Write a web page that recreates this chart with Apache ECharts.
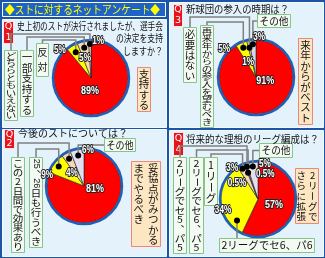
<!DOCTYPE html>
<html lang="ja">
<head>
<meta charset="UTF-8" />
<title>ストに対するネットアンケート</title>
<script src="https://cdn.jsdelivr.net/npm/echarts@6/dist/echarts.min.js"></script>
<style>
  html, body { margin: 0; padding: 0; background: #1d55a6; }
  #main { width: 325px; height: 258px; }
</style>
</head>
<body>
<div id="main"></div>
<script>
// --- data ---
const q1Names = ['支持する', '反対', '一部支持する', 'どちらともいえない']
const q1Values = [89, 5, 5, 1]
const q2Names = ['妥協点がみつかるまでやるべき', '25、26日も行うべき', 'この2日間で効果あり', 'その他']
const q2Values = [81, 9, 4, 6]
const q3Names = ['来年からがベスト', '再来年からの参入を望むべき', '必要はない', 'その他']
const q3Values = [91, 5, 1, 3]
const q4Names = ['2リーグでさらに拡張', '2リーグでセ6、パ6', '1リーグ', '2リーグでセ6、パ5', '2リーグでセ5、パ5', 'その他']
const q4Values = [57, 34, 3, 0.5, 0.5, 5]

const title = '◆ストに対するネットアンケート◆'
const q1Text = ['史上初のストが決行されましたが、選手会', 'の決定を支持', 'しますか？']
const q2Text = ['今後のストについては？']
const q3Text = ['新球団の参入の時期は？']
const q4Text = ['将来的な理想のリーグ編成は？']

// --- styles ---
const RED = '#ff0000', YEL = '#ffff00', BEI = '#f6dab0', LAV = '#e2e0f0', WHT = '#f6f6fa'
const q1Colors = [RED, YEL, BEI, WHT]
const q2Colors = [RED, YEL, BEI, LAV]
const q3Colors = [RED, YEL, BEI, '#d6d6e4']
const q4Colors = [RED, YEL, BEI, WHT, WHT, LAV]

const JP = '"Noto Sans CJK JP", sans-serif'
const NUM = '"Liberation Sans", Arial, sans-serif'

// layout of each panel (positions only, values come from the arrays above)
const panels = [
  { names: q1Names, values: q1Values, colors: q1Colors, text: q1Text, num: '1',
    panel: [2, 19, 164, 108], center: [91, 78], r: 37, qbox: [3, 21, 10, 22],
    lines: [[17, 26, 146, 'left'], [163, 38, 47, 'right'], [163, 51, 40, 'right']],
    answer: { rect: [137, 67, 13, 44], cols: ['支持する'] },
    tags: [null,
      { rect: [36, 43, 12, 33], route: 'up', rail: 40 },
      { rect: [20, 50, 13, 66], route: 'up', rail: 37 },
      { rect: [4, 50, 13, 70], route: 'up', rail: 34 }],
    pct: [[24, 13], [-17, 42], [-4, 21], [12.5, 38]],
    dot: [null, [0, 30], [0, 31], [0, 34]] },
  { names: q2Names, values: q2Values, colors: q2Colors, text: q2Text, num: '2',
    panel: [2, 129, 164, 127], center: [84, 186], r: 37, qbox: [4, 129, 10, 19],
    lines: [[18, 133, 110, 'left']],
    answer: { rect: [131, 161, 29, 85], cols: ['妥協点がみつかる', 'までやるべき'] },
    tags: [null,
      { rect: [29, 157, 13, 90], route: 'up', rail: 149 },
      { rect: [11, 157, 13, 95], route: 'up', rail: 143 },
      { rect: [104, 138, 31, 13], route: 'side', horiz: true }],
    pct: [[-41, 11.4], [-21, 38.6], [-14, 17.7], [17, 36]],
    dot: [null, [0, 32], [0, 31], [0, 31]] },
  { names: q3Names, values: q3Values, colors: q3Colors, text: q3Text, num: '3',
    panel: [169, 2, 154, 125], center: [256, 77], r: 37, qbox: [173, 4, 9, 22],
    lines: [[186, 9, 103, 'left']],
    answer: { rect: [298, 38, 14, 86], cols: ['来年からがベスト'] },
    tags: [null,
      { rect: [200, 25, 13, 102], route: 'up', rail: 22 },
      { rect: [183, 27, 13, 55], route: 'up', rail: 17 },
      { rect: [257, 14, 33, 13], route: 'side', horiz: true }],
    pct: [[-50, 10], [-25, 42.5], [-15, 17], [10, 40]],
    dot: [null, [0, 32], [0, 30], [0, 33]] },
  { names: q4Names, values: q4Values, colors: q4Colors, text: q4Text, num: '4',
    panel: [169, 130, 154, 126], center: [258, 199], r: 37, qbox: [173, 132, 10, 23],
    lines: [[186, 139, 133, 'left']],
    answer: { rect: [295, 168, 23, 55], cols: ['2リーグで', 'さらに拡張'] },
    tags: [null,
      { rect: [219, 238, 95, 14], route: 'down', horiz: true },
      { rect: [204, 157, 13, 48], route: 'up', rail: 154 },
      { rect: [189, 157, 14, 96], route: 'up', rail: 150 },
      { rect: [173, 157, 13, 96], route: 'up', rail: 146 },
      { rect: [259, 143, 33, 14], route: 'side', horiz: true }],
    pct: [[8, 17], [-14, 36.7], [-13, 40], [-32, 26.4], [35, 26], [20, 35.7]],
    dot: [null, [-42, 30], [0, 34], [0, 28], [0, 34], [0, 33]] }
]

const ctx = document.createElement('canvas').getContext('2d')
function measure(str, font) { ctx.font = font; return ctx.measureText(str).width }

function fitText(str, x, y, width, size, fill, align) {
  const font = size + 'px ' + JP
  const w = measure(str, font)
  return { type: 'text', x, y, z: 6, scaleX: Math.min(1.1, width / w),
    style: { text: str, font, fill, align: align || 'left', textAlign: align || 'left',
      verticalAlign: 'middle', textVerticalAlign: 'middle' } }
}

function polar(c, deg, rho) {
  const a = deg * Math.PI / 180
  return [c[0] + rho * Math.sin(a), c[1] - rho * Math.cos(a)]
}

function midAngles(values) {
  const total = values.reduce((a, b) => a + b, 0)
  let cum = 0
  return values.map(v => { const m = (cum + v / 2) / total * 360; cum += v; return m })
}

// vertical japanese text inside a box, columns right to left
function vbox(rect, cols, fill, stroke) {
  const els = [{ type: 'rect', z: 5, shape: { x: rect[0] + 0.5, y: rect[1] + 0.5, width: rect[2], height: rect[3] },
    style: { fill, stroke, lineWidth: 1 } }]
  const colW = rect[2] / cols.length
  const toks = cols.map(c => c.match(/[0-9]{2,}|./gu))
  const n = Math.max(...toks.map(t => t.length))
  const step = (rect[3] - 3) / n
  const fs = Math.min(10.5, colW - 2)
  const sy = Math.min(1, step / fs)
  toks.forEach((tk, ci) => {
    const cx = rect[0] + 0.5 + rect[2] - colW * (ci + 0.5)
    tk.forEach((t, i) => {
      let x = cx, y = rect[1] + 2 + (i + 0.5) * step
      const el = { type: 'text', z: 6, x, y, scaleY: sy,
        style: { text: t, font: fs + 'px ' + JP, fill: '#111', align: 'center', textAlign: 'center',
          verticalAlign: 'middle', textVerticalAlign: 'middle' } }
      if (t === 'ー') { el.rotation = -Math.PI / 2; el.scaleY = 1; el.scaleX = sy }
      else if (t.length > 1) { el.rotation = -Math.PI / 2; el.scaleY = 1; el.style.font = (fs - 1.5) + 'px ' + NUM }
      else if (t === '、') { el.x = cx + fs * 0.55; el.y = y - step * 0.55 }
      els.push(el)
    })
  })
  return els
}

function hbox(rect, str) {
  const els = [{ type: 'rect', z: 5, shape: { x: rect[0] + 0.5, y: rect[1] + 0.5, width: rect[2], height: rect[3] },
    style: { fill: '#f3faf2', stroke: '#86c488', lineWidth: 1 } }]
  const font = '10.5px ' + JP
  const w = measure(str, font)
  els.push({ type: 'text', z: 6, x: rect[0] + rect[2] / 2 + 0.5, y: rect[1] + rect[3] / 2 + 0.5,
    scaleX: Math.min(1, (rect[2] - 4) / w),
    style: { text: str, font, fill: '#111', align: 'center', textAlign: 'center',
      verticalAlign: 'middle', textVerticalAlign: 'middle' } })
  return els
}

const graphic = []
const series = []

// title bar
graphic.push({ type: 'rect', z: 1, shape: { x: 2.5, y: 2.5, width: 163, height: 14 },
  style: { fill: '#1f63c6', stroke: '#ffffff', lineWidth: 1 } })
graphic.push(fitText(title, 5, 10, 155, 11.5, '#ffff00', 'left'))

panels.forEach(p => {
  const [px, py, pw, ph] = p.panel
  graphic.push({ type: 'rect', z: 1, shape: { x: px + 0.5, y: py + 0.5, width: pw, height: ph },
    style: { fill: '#e3f2fb', stroke: '#f4fbff', lineWidth: 1 } })
  // Q box
  const [qx, qy, qw, qh] = p.qbox
  graphic.push({ type: 'rect', z: 5, shape: { x: qx + 0.5, y: qy + 0.5, width: qw, height: qh },
    style: { fill: '#e8141c', stroke: '#ffffff', lineWidth: 0.8 } })
  ;['Q', p.num].forEach((t, i) => graphic.push({ type: 'text', z: 6, x: qx + qw / 2 + 0.5, y: qy + qh * (i + 0.5) / 2 + 0.5,
    style: { text: t, font: '9.5px "DejaVu Sans", sans-serif', fill: '#fff', align: 'center', textAlign: 'center',
      verticalAlign: 'middle', textVerticalAlign: 'middle' } }))
  // question text
  p.lines.forEach((l, i) => graphic.push(fitText(p.text[i], l[0], l[1], l[2], 10, '#111', l[3])))
  // answer box
  graphic.push(...vbox(p.answer.rect, p.answer.cols, '#fde6c2', '#f0867a'))

  // pie
  series.push({
    type: 'pie', center: p.center, radius: p.r, startAngle: 90, clockwise: true,
    silent: true, animation: false, label: { show: false }, labelLine: { show: false },
    itemStyle: { borderColor: '#222', borderWidth: 0.6 },
    data: p.names.map((n, i) => ({ name: n, value: p.values[i], itemStyle: { color: p.colors[i] } }))
  })
  graphic.push({ type: 'circle', z: 8, shape: { cx: p.center[0], cy: p.center[1], r: p.r + 1 },
    style: { fill: 'none', stroke: '#1f5fb5', lineWidth: 2.5 } })

  const mids = midAngles(p.values)
  // category tags, leader lines, dots
  p.tags.forEach((t, i) => {
    if (!t) return
    const d = p.dot[i]
    const [dx, dy] = polar(p.center, mids[i] + d[0], d[1])
    if (t.horiz) graphic.push(...hbox(t.rect, p.names[i]))
    else graphic.push(...vbox(t.rect, [p.names[i]], '#f3faf2', '#86c488'))
    let pts
    if (t.route === 'up') {
      const bx = t.rect[0] + t.rect[2] / 2 + 0.5
      pts = [[bx, t.rect[1]], [bx, t.rail], [dx, t.rail], [dx, dy]]
    } else if (t.route === 'side') {
      const my = t.rect[1] + t.rect[3] / 2 + 0.5
      pts = [[t.rect[0], my], [dx, my], [dx, dy]]
    } else {
      pts = [[dx, dy], [dx, t.rect[1]]]
    }
    graphic.push({ type: 'polyline', z: 9, shape: { points: pts },
      style: { stroke: '#808080', lineWidth: 1.5, fill: 'none' } })
    graphic.push({ type: 'circle', z: 10, shape: { cx: dx, cy: dy, r: 3 }, style: { fill: '#000' } })
  })
  // percentage labels
  p.values.forEach((v, i) => {
    const [lx, ly] = polar(p.center, mids[i] + p.pct[i][0], p.pct[i][1])
    const big = i === 0
    graphic.push({ type: 'text', z: 11, x: lx, y: ly, scaleX: 0.78,
      style: { text: v + '%', font: 'bold ' + (big ? 11.5 : 10.5) + 'px ' + NUM, fill: '#fff',
        stroke: '#222', lineWidth: 2.2, align: 'center', textAlign: 'center',
        verticalAlign: 'middle', textVerticalAlign: 'middle' } })
  })
})

const chart = echarts.init(document.getElementById('main'))
chart.setOption({
  animation: false,
  backgroundColor: '#1d55a6',
  series,
  graphic
})
</script>
</body>
</html>
